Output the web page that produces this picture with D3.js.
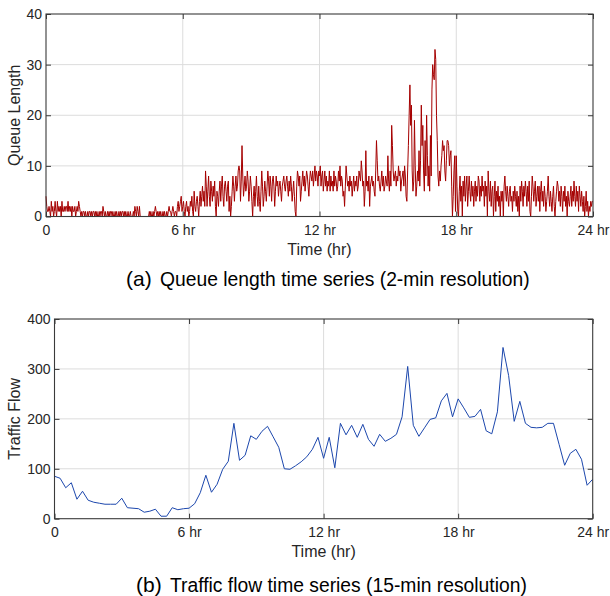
<!DOCTYPE html>
<html>
<head>
<meta charset="utf-8">
<script src="https://cdn.jsdelivr.net/npm/d3@7"></script>
<style>
  body { margin: 0; background: #fff; }
  svg { display: block; font-family: "Liberation Sans", Arial, sans-serif; }
</style>
</head>
<body>
<div id="chart"></div>
<script>
// Queue length, one value every 2 minutes (one line per hour, plus the 24 hr point)
const queueLength = [
  4,2,1,1,2,1,0,3,1,2,0,1,3,1,0,3,1,2,1,2,0,3,1,1,2,1,2,2,1,3,
  1,2,1,2,0,2,1,1,2,0,1,2,1,3,2,1,0,1,0,1,1,0,1,0,0,1,0,1,1,0,
  1,0,1,1,0,1,0,1,0,0,1,0,1,1,0,2,1,0,1,0,0,1,0,1,0,1,1,0,1,0,
  0,1,0,1,0,0,1,0,1,0,1,1,0,1,0,1,0,0,1,0,0,1,0,0,0,1,0,2,1,0,
  2,1,0,2,0,0,0,0,0,0,0,0,0,0,0,0,1,0,1,0,0,1,0,1,2,1,0,1,0,1,
  0,1,0,0,1,0,1,0,0,1,0,1,2,1,1,0,1,2,1,0,1,1,0,2,3,1,2,3,4,1,
  2,3,1,0,2,3,1,2,0,1,3,2,4,1,0,5,2,1,3,4,2,0,3,5,2,4,6,3,5,2,
  9,6,2,5,8,4,2,7,5,3,6,4,7,2,0,5,4,2,5,7,3,6,8,4,2,6,7,5,3,6,
  7,1,4,0,2,5,8,6,3,6,8,5,6,9,10,9,3,7,14,8,4,6,8,5,6,9,7,3,5,8,
  6,3,0,4,6,2,5,8,4,2,6,3,1,5,9,6,2,4,7,5,3,6,9,7,4,8,6,3,7,8,
  6,2,5,8,6,7,4,6,7,5,3,6,7,8,6,5,7,8,6,4,7,5,8,6,3,5,7,4,1,0,
  6,9,8,6,8,3,5,7,9,6,8,5,7,9,8,6,4,7,9,8,7,9,6,8,10,7,9,8,6,9,
  8,10,6,8,9,5,7,9,6,8,5,7,6,9,5,8,6,7,5,9,6,8,7,5,6,9,7,10,6,8,
  7,4,5,2,6,10,8,6,7,5,8,6,7,4,6,8,5,7,6,8,5,6,9,8,7,11,9,6,7,2,
  5,13,6,7,5,8,2,6,7,8,6,7,5,4,9,15,11,7,8,6,5,7,9,6,8,5,6,8,7,6,
  12,7,5,9,6,18,14,9,7,8,9,6,8,7,10,8,9,5,7,8,9,6,10,8,4,3,9,14,20,26,
  18,22,9,5,7,19,10,4,6,9,7,13,6,11,22,14,18,9,5,15,8,20,12,6,10,5,16,8,25,30,
  28,27,33,31,20,15,8,6,9,7,10,12,15,13,14,9,7,11,15,15,14,10,12,13,6,0,4,9,12,1,
  12,6,1,0,5,8,3,6,0,7,4,8,3,6,8,2,5,8,5,3,7,4,6,2,5,7,3,6,4,8,
  7,3,6,4,8,5,6,2,7,4,6,0,9,5,3,7,2,5,6,0,4,7,1,5,3,6,2,4,0,5,
  3,5,0,6,8,5,3,6,4,2,5,6,3,4,1,5,3,6,4,2,5,1,4,0,6,3,7,5,2,6,
  4,7,5,2,6,3,7,1,0,4,8,6,3,5,7,2,4,6,3,6,1,5,7,3,5,2,6,4,1,3,
  5,8,4,2,5,3,1,4,6,2,0,3,5,7,6,3,5,2,6,4,1,5,3,6,2,4,0,5,3,2,
  4,6,2,5,3,7,4,2,6,3,5,1,6,4,2,5,3,1,4,0,2,5,1,3,0,2,1,3,2,3,
  3
];
const queueStepMin = 2;

// Traffic flow, one value every 15 minutes
const trafficFlow = [
  85,81,62,72,39,55,37,33,31,29,29,29,41,22,21,20,13,15,19,5,5,22,18,20,21,30,
  52,87,53,69,99,115,191,117,127,166,159,175,185,164,143,100,99,106,114,124,
  139,163,121,163,102,191,168,187,163,189,159,145,169,155,161,169,
  204,305,187,165,182,199,202,236,251,204,240,222,203,205,219,176,170,214,343,287,
  195,235,191,183,182,183,191,191,149,107,131,139,119,67,79
];
const flowStepMin = 15;

const hourTicks = [0, 6, 12, 18, 24];
const hourTickLabels = ["0", "6 hr", "12 hr", "18 hr", "24 hr"];
const queueTicks = [0, 10, 20, 30, 40];
const flowTicks = [0, 100, 200, 300, 400];

const svg = d3.select("#chart").append("svg")
    .attr("width", 610)
    .attr("height", 596);

const frameColor = "#3a3a3a";
const textColor = "#262626";

// Draw one boxed panel (grid, inward ticks on all sides, line, labels)
function drawPanel(p) {
    const g = svg.append("g")
        .attr("transform", "translate(" + p.left + "," + p.top + ")");

    const x = d3.scaleLinear().domain([0, 24]).range([0, p.width]);
    const y = d3.scaleLinear().domain([0, p.yTicks[p.yTicks.length - 1]]).range([p.height, 0]);

    // grid
    g.append("g").selectAll("line")
        .data(hourTicks.slice(1, -1))
        .enter().append("line")
        .attr("x1", d => x(d)).attr("x2", d => x(d))
        .attr("y1", 0).attr("y2", p.height)
        .attr("stroke", "#dcdcdc");
    g.append("g").selectAll("line")
        .data(p.yTicks.slice(1, -1))
        .enter().append("line")
        .attr("x1", 0).attr("x2", p.width)
        .attr("y1", d => y(d)).attr("y2", d => y(d))
        .attr("stroke", "#dcdcdc");

    // the series
    const line = d3.line()
        .x((d, i) => x(i * p.stepMin / 60))
        .y(d => y(d));
    g.append("path")
        .datum(p.values)
        .attr("fill", "none")
        .attr("stroke", p.color)
        .attr("stroke-width", 1)
        .attr("stroke-linejoin", "miter")
        .attr("d", line);

    // axes: ticks point inward
    const styleAxis = sel => {
        sel.select(".domain").remove();
        sel.attr("font-size", 14)
           .attr("font-family", "'Liberation Sans', Arial, sans-serif")
           .style("color", textColor);
        sel.selectAll(".tick line").attr("stroke", frameColor);
    };

    g.append("g")
        .attr("transform", "translate(0," + p.height + ")")
        .call(d3.axisBottom(x).tickValues(hourTicks)
            .tickFormat((d, i) => hourTickLabels[i])
            .tickSizeInner(-5).tickSizeOuter(0).tickPadding(8.5))
        .call(styleAxis);
    g.append("g")
        .call(d3.axisTop(x).tickValues(hourTicks).tickFormat("")
            .tickSizeInner(-5).tickSizeOuter(0))
        .call(styleAxis);
    g.append("g")
        .call(d3.axisLeft(y).tickValues(p.yTicks)
            .tickSizeInner(-5).tickSizeOuter(0).tickPadding(4))
        .call(styleAxis);
    g.append("g")
        .attr("transform", "translate(" + p.width + ",0)")
        .call(d3.axisRight(y).tickValues(p.yTicks).tickFormat("")
            .tickSizeInner(-5).tickSizeOuter(0))
        .call(styleAxis);

    // box
    g.append("rect")
        .attr("width", p.width).attr("height", p.height)
        .attr("fill", "none")
        .attr("stroke", frameColor)
        .attr("stroke-width", 1.1);

    // axis titles
    g.append("text")
        .attr("x", p.width / 2)
        .attr("y", p.height + p.xTitleOffset)
        .attr("text-anchor", "middle")
        .attr("font-size", 16)
        .attr("fill", textColor)
        .text("Time (hr)");
    g.append("text")
        .attr("transform", "translate(" + (20 - p.left) + "," + (p.height / 2) + ") rotate(-90)")
        .attr("text-anchor", "middle")
        .attr("font-size", 16)
        .attr("fill", textColor)
        .text(p.yLabel);

    // caption under the panel
    svg.append("text")
        .attr("x", p.captionX).attr("y", p.captionY)
        .attr("font-size", 21)
        .attr("fill", "#000")
        .text(p.letter);
    svg.append("text")
        .attr("x", p.captionX + 34).attr("y", p.captionY)
        .attr("font-size", 19.3)
        .attr("fill", "#000")
        .text(p.caption);
}

drawPanel({
    left: 46, top: 14, width: 547, height: 202.5,
    values: queueLength, stepMin: queueStepMin, yTicks: queueTicks,
    color: "#a50000", yLabel: "Queue Length", xTitleOffset: 38,
    letter: "(a)", caption: "Queue length time series (2-min resolution)",
    captionX: 126, captionY: 286
});

drawPanel({
    left: 54.5, top: 319, width: 538.2, height: 199.7,
    values: trafficFlow, stepMin: flowStepMin, yTicks: flowTicks,
    color: "#1c47ad", yLabel: "Traffic Flow", xTitleOffset: 38,
    letter: "(b)", caption: "Traffic flow time series (15-min resolution)",
    captionX: 136, captionY: 592
});
</script>
</body>
</html>
